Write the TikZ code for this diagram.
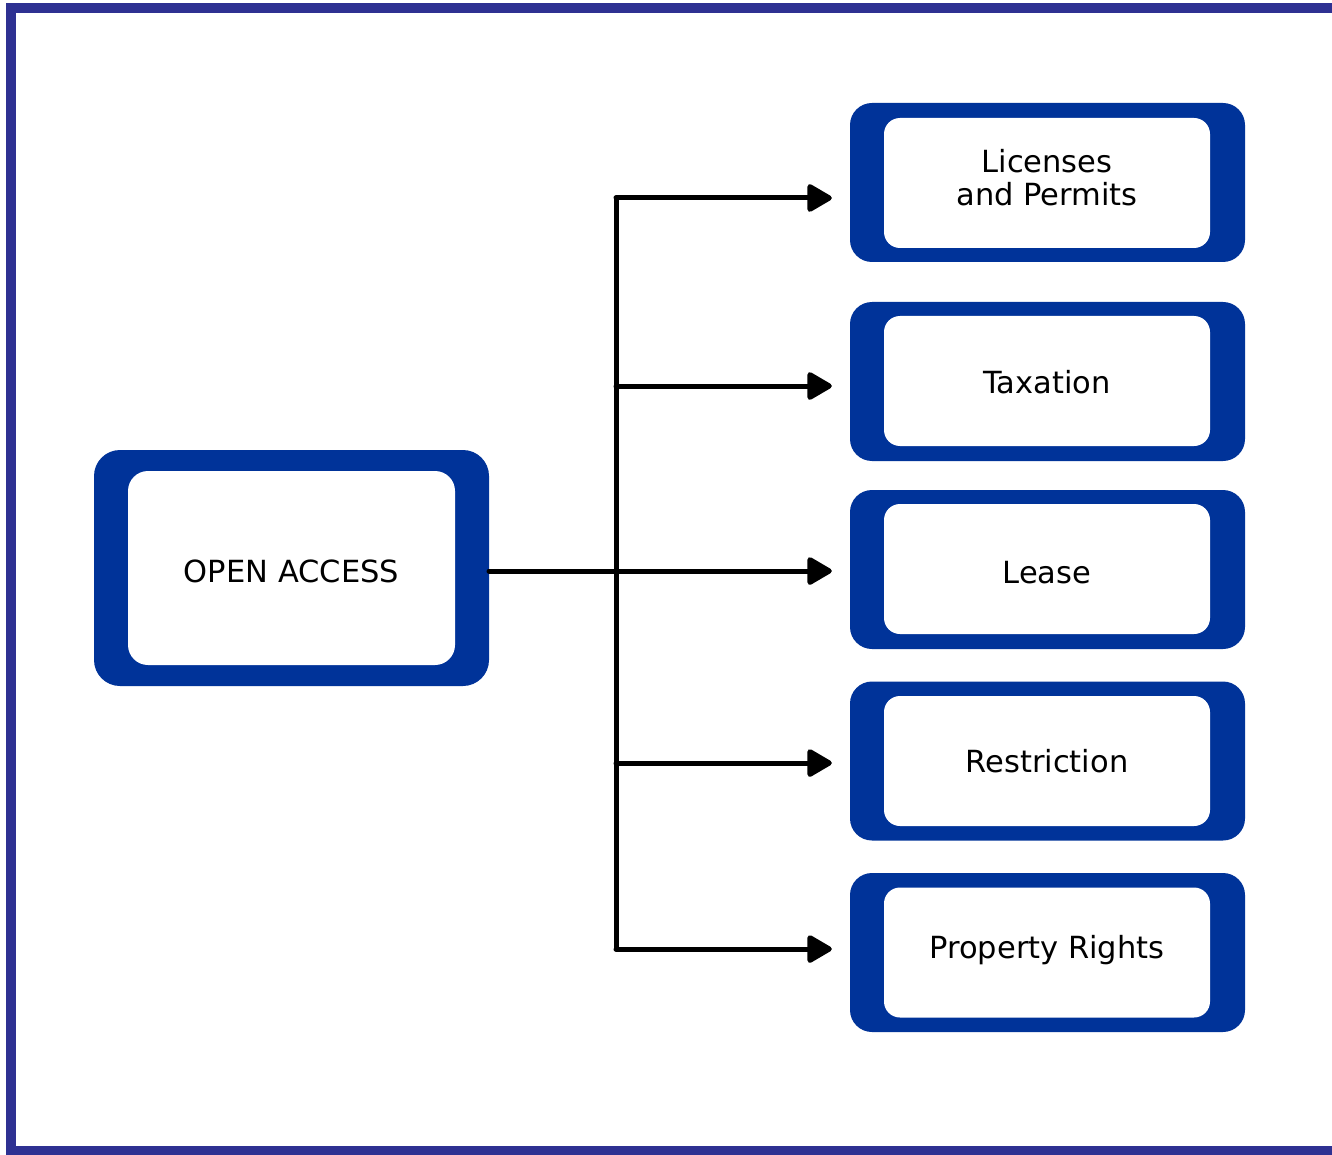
\documentclass[tikz,border=0pt]{standalone}
\usepackage{fontspec}
\setmainfont{DejaVu Sans}
\usetikzlibrary{arrows.meta}
\definecolor{framecol}{HTML}{2E3192}
\definecolor{boxblue}{HTML}{003399}
\tikzset{
  outerbox/.style={fill=boxblue, draw=none, rounded corners=22pt, inner sep=0pt,
    minimum width=395pt, minimum height=159pt},
  innerbox/.style={fill=white, draw=none, rounded corners=16pt, inner sep=0pt,
    minimum width=326pt, minimum height=130pt},
  lbl/.style={inner sep=0pt, align=center, font=\fontsize{30.5pt}{33pt}\selectfont},
  conn/.style={line width=5pt, line cap=round, line join=round},
  arr/.style={conn, -{Triangle[length=27pt,width=30pt,round]}},
}
\begin{document}
\begin{tikzpicture}[x=1pt,y=-1pt]
\useasboundingbox (0,0) rectangle (1332,1155);
\fill[white] (0,0) rectangle (1332,1155);
% frame
\draw[framecol, line width=10pt] (1332,8) -- (11,8) -- (11,1151) -- (1332,1151);

% left box
\node[outerbox, minimum height=236pt, rounded corners=26pt] (oa) at (291.5,568) {};
\node[innerbox, minimum width=327pt, minimum height=194pt, rounded corners=20pt] (oai) at (291.5,568) {};
\node[lbl] (oal) at (291.5,571) {OPEN ACCESS};

% right boxes
\node[outerbox] (lic) at (1047.5,182.5) {};
\node[innerbox] (lici) at (1047,183) {};
\node[lbl] (licl) at (1047,178) {Licenses\\and Permits};
\node[outerbox] (tax) at (1047.5,381.5) {};
\node[innerbox] (taxi) at (1047,381) {};
\node[lbl] (taxl) at (1047,382) {Taxation};
\node[outerbox] (lea) at (1047.5,569.5) {};
\node[innerbox] (leai) at (1047,569) {};
\node[lbl] (leal) at (1047,573) {Lease};
\node[outerbox] (res) at (1047.5,761) {};
\node[innerbox] (resi) at (1047,761) {};
\node[lbl] (resl) at (1047,761) {Restriction};
\node[outerbox] (pro) at (1047.5,952.5) {};
\node[innerbox] (proi) at (1047,952.5) {};
\node[lbl] (prol) at (1047,950) {Property Rights};

% trunk
\coordinate (t1) at (616,198);
\coordinate (t2) at (616,386);
\coordinate (t3) at (616,571);
\coordinate (t4) at (616,763);
\coordinate (t5) at (616,949);
\coordinate (s0) at (489,571);

\draw[conn] (t1) -- (t5);
\draw[arr, shorten >=18pt] (s0) -- (lea.west |- s0);
\draw[arr, shorten >=18pt] (t1) -- (lic.west |- t1);
\draw[arr, shorten >=18pt] (t2) -- (tax.west |- t2);
\draw[arr, shorten >=18pt] (t4) -- (res.west |- t4);
\draw[arr, shorten >=18pt] (t5) -- (pro.west |- t5);
\end{tikzpicture}
\end{document}
